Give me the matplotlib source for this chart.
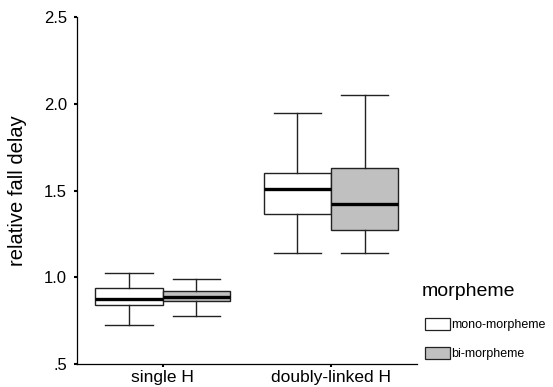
import matplotlib.pyplot as plt
from matplotlib.patches import Patch

plt.rcParams['font.family'] = ['Liberation Sans', 'DejaVu Sans']

categories = ["single H", "doubly-linked H"]
groups = ["mono-morpheme", "bi-morpheme"]
colors = ["white", "#c0c0c0"]

# box stats per group: [single H, doubly-linked H]
whislo = {"mono-morpheme": [0.727, 1.140], "bi-morpheme": [0.775, 1.140]}
q1 = {"mono-morpheme": [0.838, 1.363], "bi-morpheme": [0.865, 1.272]}
med = {"mono-morpheme": [0.876, 1.510], "bi-morpheme": [0.888, 1.424]}
q3 = {"mono-morpheme": [0.938, 1.599], "bi-morpheme": [0.922, 1.630]}
whishi = {"mono-morpheme": [1.023, 1.945], "bi-morpheme": [0.992, 2.049]}

yticks = [0.5, 1.0, 1.5, 2.0, 2.5]
yticklabels = [".5", "1.0", "1.5", "2.0", "2.5"]

fig = plt.figure(figsize=(5.53, 3.87), dpi=100)
ax = fig.add_axes([0.139, 0.0594, 0.615, 0.8966])

offsets = [-0.2, 0.2]
for g, off, col in zip(groups, offsets, colors):
    stats = []
    for i in range(len(categories)):
        stats.append(dict(med=med[g][i], q1=q1[g][i], q3=q3[g][i],
                          whislo=whislo[g][i], whishi=whishi[g][i], fliers=[]))
    ax.bxp(stats, positions=[i + off for i in range(len(categories))],
           widths=0.40, capwidths=0.28, patch_artist=True, manage_ticks=False,
           boxprops=dict(facecolor=col, edgecolor="#222222", linewidth=1.0),
           medianprops=dict(color="black", linewidth=2.4, solid_capstyle="butt"),
           whiskerprops=dict(color="#222222", linewidth=1.0),
           capprops=dict(color="#222222", linewidth=1.0))

ax.set_xlim(-0.51, 1.51)
ax.set_ylim(0.5, 2.5)
ax.set_xticks(range(len(categories)))
ax.set_xticklabels(categories, fontsize=12.5)
ax.set_yticks(yticks)
ax.set_yticklabels(yticklabels, fontsize=12)
ax.tick_params(axis="x", direction="out", length=2, width=1.5, pad=2)
ax.tick_params(axis="y", direction="out", length=2, width=1.5, pad=5)
ax.set_ylabel("relative fall delay", fontsize=14.5, labelpad=12)

for s in ["top", "right"]:
    ax.spines[s].set_visible(False)
for s in ["left", "bottom"]:
    ax.spines[s].set_linewidth(0.9)

fig.text(422 / 553, 1 - 292 / 387, "morpheme", fontsize=14, va="center", ha="left")
handles = [Patch(facecolor=c, edgecolor="#222222", linewidth=0.9) for c in colors]
fig.legend(handles, groups, loc="upper left", bbox_to_anchor=(425 / 553, 1 - 318 / 387),
           frameon=False, fontsize=9, handlelength=2.0, handleheight=1.05,
           handletextpad=0.1, labelspacing=1.3, borderpad=0, borderaxespad=0)

fig.savefig("out.png", dpi=100)
